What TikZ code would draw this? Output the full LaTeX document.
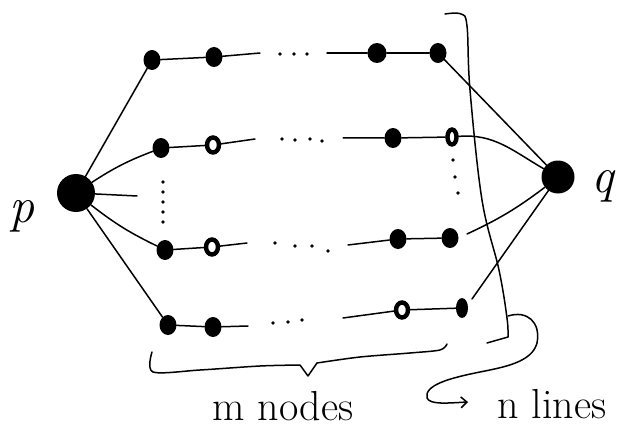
\documentclass[tikz,border=0pt]{standalone}
\usetikzlibrary{shapes.geometric,arrows.meta}
\begin{document}
\begin{tikzpicture}[x=1pt,y=-1pt,
  vtx/.style={ellipse, fill=black, inner sep=0pt, minimum width=17pt, minimum height=20pt},
  hollow/.style={ellipse, draw=black, fill=white, line width=4.4pt, inner sep=0pt, minimum width=12pt, minimum height=15pt},
  hub/.style={circle, fill=black, inner sep=0pt},
  link/.style={line width=1.5pt, line cap=round},
  pen/.style={line width=1.5pt, line cap=round, line join=round},
  lbl/.style={font=\fontsize{42}{46}\selectfont, inner sep=0pt, anchor=base},
  big/.style={font=\fontsize{50}{54}\selectfont\itshape, inner sep=0pt, anchor=base}]
\useasboundingbox (0,0) rectangle (622,428);

% end points
\node[hub, minimum size=38pt] (p) at (76,193) {};
\node[hub, minimum size=33pt] (q) at (558,177) {};
\node[big] (lp) at (22,222) {p};
\node[big] (lq) at (603,192) {q};

% row 1
\node[vtx] (n11) at (152,60) {};
\node[vtx] (n12) at (214,57) {};
\node[vtx, minimum width=19pt] (n13) at (377,53) {};
\node[vtx] (n14) at (438,53) {};
\coordinate (r1a) at (260,53);
\coordinate (r1b) at (327,53);
% row 2
\node[vtx] (n21) at (161,148) {};
\node[hollow] (n22) at (213,145) {};
\node[vtx] (n23) at (393,138) {};
\node[hollow, minimum width=9pt] (n24) at (452,137) {};
\coordinate (r2a) at (255,139);
\coordinate (r2b) at (343,138);
% row 3
\node[vtx] (n31) at (165,250) {};
\node[hollow] (n32) at (212,247) {};
\node[vtx] (n33) at (398,239) {};
\node[vtx] (n34) at (450,238) {};
\coordinate (r3a) at (247,243);
\coordinate (r3b) at (348,245);
% row 4
\node[vtx] (n41) at (168,325) {};
\node[vtx] (n42) at (213,327) {};
\node[hollow] (n43) at (402,310) {};
\node[vtx, minimum width=12pt] (n44) at (462,308) {};
\coordinate (r4a) at (248,326);
\coordinate (r4b) at (343,318);

% paths along each line
\draw[link] (n11) -- (n12) -- (r1a);
\draw[link] (r1b) -- (n13) -- (n14);
\draw[link] (n21) -- (n22) -- (r2a);
\draw[link] (r2b) -- (n23) -- (n24);
\draw[link] (n31) -- (n32) -- (r3a);
\draw[link] (r3b) -- (n33) -- (n34);
\draw[link] (n41) -- (n42) -- (r4a);
\draw[link] (r4b) -- (n43) -- (n44);

% elided nodes
\foreach \x/\y in {280/54, 294/54, 307/54,
                   282/139, 295/140, 310/139, 322/141,
                   275/243, 295/246, 312/246, 328/251,
                   273/323, 288/322, 302/320}
  \fill (\x,\y) circle (1.8pt);
% elided lines
\foreach \y in {182,192,202,212,222}
  \fill (163,\y) circle (1.8pt);
\foreach \x/\y in {453/160, 455/177, 458/193}
  \fill (\x,\y) circle (1.8pt);

% edges from p
\coordinate (stub) at (137,196);
\draw[link] (p) -- (n11);
\draw[link] (p) to[bend left=6] (n21);
\draw[link] (p) -- (stub);
\draw[link] (p) to[bend right=6] (n31);
\draw[link] (p) -- (n41);

% edges into q
\coordinate (g3) at (467,234);
\coordinate (g4) at (472,299);
\draw[link] (n14) -- (q);
\draw[link] (n24) to[out=5, in=150] (q);
\draw[link] (g3) to[bend right=6] (q);
\draw[link] (g4) -- (q);

% right bracket grouping the lines
\draw[pen] plot[smooth, tension=0.6] coordinates
  {(445,14) (461,14) (467,26) (470,90) (482,200) (499,270) (507,318) (508,337)}
  -- (487,343);
\coordinate (bk) at (508,316);

% curly arrow to the label
\coordinate (arr) at (468,402);
\draw[pen, -{Straight Barb[length=6pt, width=11pt, line width=1.5pt]}]
  (bk) .. controls (527,310) and (541,322) .. (537,343)
       .. controls (532,362) and (505,367) .. (480,372)
       .. controls (450,378) and (424,385) .. (427,398)
       .. controls (430,405) and (448,403) .. (arr);

% brace below the lines
\coordinate (tip) at (308,376);
\draw[pen] plot[smooth, tension=0.5] coordinates
  {(152,352) (153,372) (200,370) (260,366) (300,365)} -- (tip)
  -- (317,363);
\draw[pen] plot[smooth, tension=0.5] coordinates
  {(317,363) (360,357) (410,353) (440,350) (447,344)};

% labels
\node[lbl] (mlab) at (283,420) {m nodes};
\node[lbl] (nlab) at (552,418) {n lines};
\end{tikzpicture}
\end{document}
